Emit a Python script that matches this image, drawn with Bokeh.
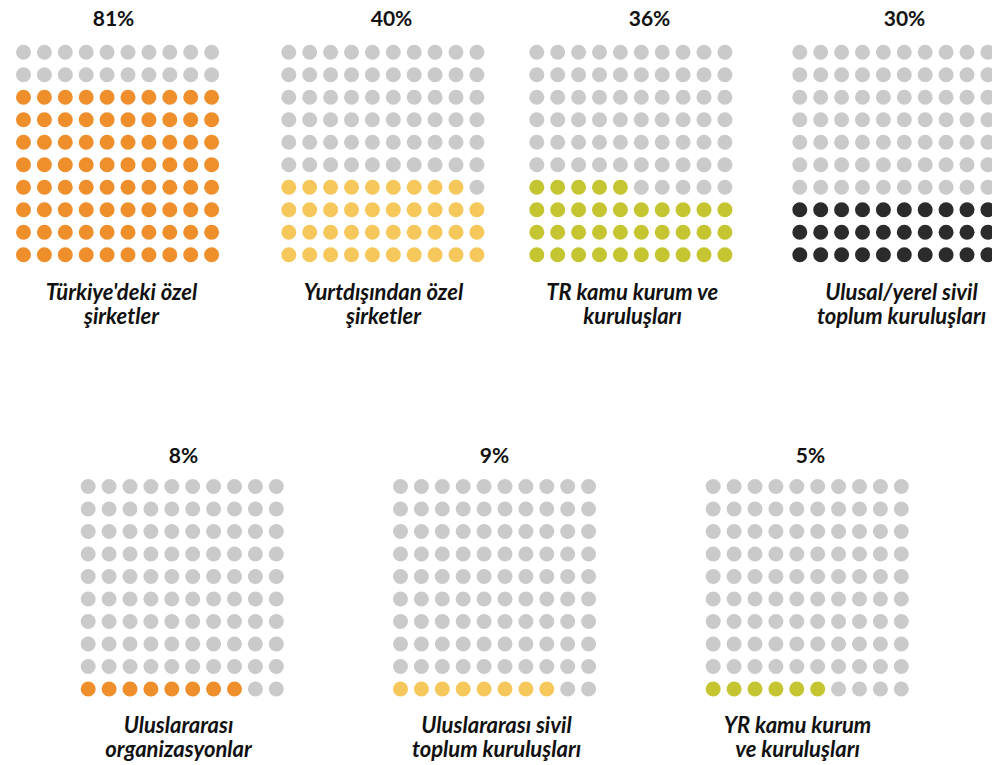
from bokeh.plotting import figure
from bokeh.models import Range1d, ColumnDataSource
from bokeh.core.properties import value
from bokeh.embed import file_html
from bokeh.resources import INLINE

# ---- data ----
categories = [
    ["Türkiye'deki özel", "şirketler"],
    ["Yurtdışından özel", "şirketler"],
    ["TR kamu kurum ve", "kuruluşları"],
    ["Ulusal/yerel sivil", "toplum kuruluşları"],
    ["Uluslararası", "organizasyonlar"],
    ["Uluslararası sivil", "toplum kuruluşları"],
    ["YR kamu kurum", "ve kuruluşları"],
]
percent_labels = ["81%", "40%", "36%", "30%", "8%", "9%", "5%"]
filled_dots = [80, 39, 35, 30, 8, 8, 6]

# ---- style / layout ----
colors = ["#EF8F2C", "#F6C85C", "#C4C530", "#2B2B2B", "#EF8F2C", "#F6C85C", "#C4C530"]
empty_color = "#CBCACA"
grid_x0 = [23, 288.3, 536.3, 799.3, 87.7, 400, 712.7]
grid_y0 = [51.7] * 4 + [486] * 3
title_x = [113, 391, 649, 904, 183, 494, 810]
title_y = [17.3] * 4 + [454] * 3
label_x = [121, 383, 632, 901, 178, 496, 797]
label_y = [291.2] * 4 + [723.6] * 3
DX, DY = 20.9, 22.5
LINE_GAP = 24

W, H = 992, 765
p = figure(width=W, height=H, x_range=Range1d(0, W), y_range=Range1d(H, 0),
           output_backend="svg", toolbar_location=None, min_border=0)
p.axis.visible = False
p.grid.visible = False
p.outline_line_color = None
p.background_fill_color = "white"
p.border_fill_color = "white"

xs, ys, cs = [], [], []
for i, n in enumerate(filled_dots):
    for k in range(100):
        row_from_bottom = k // 10
        col = k % 10
        row = 9 - row_from_bottom
        xs.append(grid_x0[i] + col * DX)
        ys.append(grid_y0[i] + row * DY)
        cs.append(colors[i] if k < n else empty_color)

p.scatter(x="x", y="y", color="c", size=15, line_color=None,
          source=ColumnDataSource(dict(x=xs, y=ys, c=cs)))

p.text(x=title_x, y=title_y, text=percent_labels, text_align="center",
       text_baseline="alphabetic", text_font=value("Lato"), text_font_style="bold",
       text_font_size="21px", text_color="#111111")

lx, ly, lt = [], [], []
for i, lines in enumerate(categories):
    for j, t in enumerate(lines):
        lx.append(label_x[i])
        ly.append(label_y[i] + j * LINE_GAP)
        lt.append(t)
p.text(x=lx, y=ly, text=lt, text_align="center", text_baseline="alphabetic",
       text_font=value("Lato"), text_font_style="bold italic",
       text_font_size="22px", text_color="#111111")

open("out.html", "w").write(file_html(p, INLINE))
